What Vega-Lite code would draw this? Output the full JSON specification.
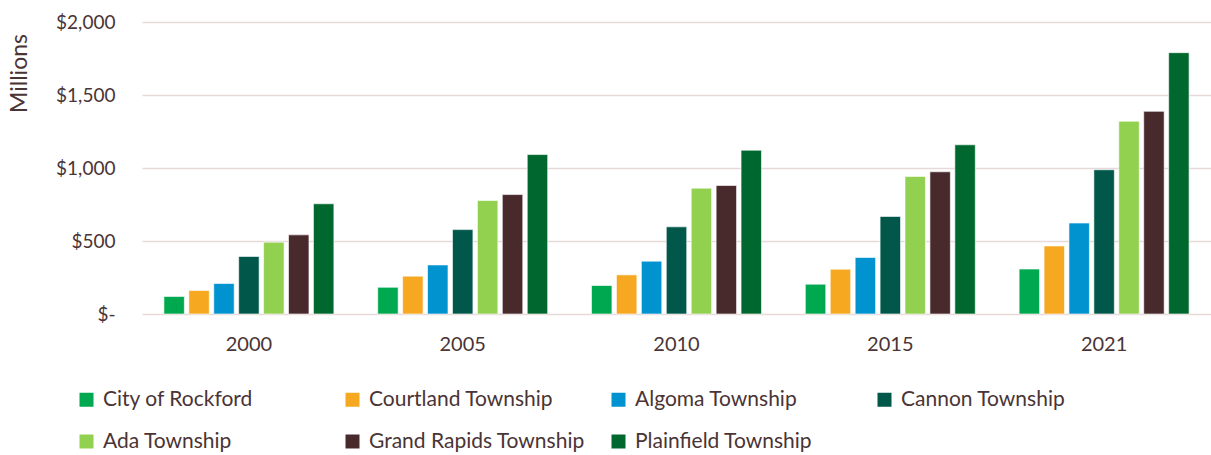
{
  "$schema": "https://vega.github.io/schema/vega-lite/v6.json",
  "width": 1069,
  "height": 292,
  "autosize": "none",
  "padding": {"left": 142, "top": 22, "right": 0, "bottom": 141},
  "background": "#ffffff",
  "config": {
    "view": {"stroke": null},
    "font": "Lato",
    "axis": {"labelColor": "#4A3435", "titleColor": "#4A3435", "labelFont": "Lato", "titleFont": "Lato"},
    "legend": {"labelColor": "#4A3435", "labelFont": "Lato"}
  },
  "data": {
    "values": [
      {"year": "2000", "place": "City of Rockford", "value": 120},
      {"year": "2000", "place": "Courtland Township", "value": 161},
      {"year": "2000", "place": "Algoma Township", "value": 209},
      {"year": "2000", "place": "Cannon Township", "value": 394},
      {"year": "2000", "place": "Ada Township", "value": 492},
      {"year": "2000", "place": "Grand Rapids Township", "value": 542},
      {"year": "2000", "place": "Plainfield Township", "value": 755},
      {"year": "2005", "place": "City of Rockford", "value": 183},
      {"year": "2005", "place": "Courtland Township", "value": 259},
      {"year": "2005", "place": "Algoma Township", "value": 336},
      {"year": "2005", "place": "Cannon Township", "value": 578},
      {"year": "2005", "place": "Ada Township", "value": 777},
      {"year": "2005", "place": "Grand Rapids Township", "value": 818},
      {"year": "2005", "place": "Plainfield Township", "value": 1092},
      {"year": "2010", "place": "City of Rockford", "value": 195},
      {"year": "2010", "place": "Courtland Township", "value": 268},
      {"year": "2010", "place": "Algoma Township", "value": 362},
      {"year": "2010", "place": "Cannon Township", "value": 597},
      {"year": "2010", "place": "Ada Township", "value": 862},
      {"year": "2010", "place": "Grand Rapids Township", "value": 880},
      {"year": "2010", "place": "Plainfield Township", "value": 1122},
      {"year": "2015", "place": "City of Rockford", "value": 204},
      {"year": "2015", "place": "Courtland Township", "value": 307},
      {"year": "2015", "place": "Algoma Township", "value": 387},
      {"year": "2015", "place": "Cannon Township", "value": 668},
      {"year": "2015", "place": "Ada Township", "value": 942},
      {"year": "2015", "place": "Grand Rapids Township", "value": 974},
      {"year": "2015", "place": "Plainfield Township", "value": 1159},
      {"year": "2021", "place": "City of Rockford", "value": 308},
      {"year": "2021", "place": "Courtland Township", "value": 466},
      {"year": "2021", "place": "Algoma Township", "value": 623},
      {"year": "2021", "place": "Cannon Township", "value": 988},
      {"year": "2021", "place": "Ada Township", "value": 1320},
      {"year": "2021", "place": "Grand Rapids Township", "value": 1388},
      {"year": "2021", "place": "Plainfield Township", "value": 1790}
    ]
  },
  "mark": {"type": "bar", "stroke": "#ffffff", "strokeOpacity": 0.6, "strokeWidth": 1},
  "encoding": {
    "x": {
      "field": "year",
      "type": "nominal",
      "scale": {"paddingInner": 0.205, "paddingOuter": 0.1025},
      "axis": {
        "title": null,
        "labelAngle": 0,
        "labelFontSize": 20,
        "labelPadding": 20,
        "ticks": false,
        "domain": false
      }
    },
    "xOffset": {
      "field": "place",
      "type": "nominal",
      "sort": ["City of Rockford", "Courtland Township", "Algoma Township", "Cannon Township", "Ada Township", "Grand Rapids Township", "Plainfield Township"],
      "scale": {"paddingInner": 0.18}
    },
    "y": {
      "field": "value",
      "type": "quantitative",
      "scale": {"domain": [0, 2000], "nice": false},
      "axis": {
        "title": "Millions",
        "titleFontSize": 23,
        "titleFontWeight": "normal",
        "titleAngle": -90,
        "titleX": -123,
        "titleY": 51,
        "titleAlign": "center",
        "titleBaseline": "middle",
        "values": [0, 500, 1000, 1500, 2000],
        "labelExpr": "datum.value === 0 ? '$-   ' : format(datum.value, '$,d')",
        "labelFontSize": 19,
        "labelPadding": 27,
        "ticks": false,
        "domain": false,
        "grid": true,
        "gridColor": "#E8D9D9",
        "gridWidth": 1.5
      }
    },
    "color": {
      "field": "place",
      "type": "nominal",
      "sort": ["City of Rockford", "Courtland Township", "Algoma Township", "Cannon Township", "Ada Township", "Grand Rapids Township", "Plainfield Township"],
      "scale": {
        "domain": ["City of Rockford", "Courtland Township", "Algoma Township", "Cannon Township", "Ada Township", "Grand Rapids Township", "Plainfield Township"],
        "range": ["#00A94F", "#F6A821", "#0093D0", "#00574A", "#92D050", "#482A2C", "#00682F"]
      },
      "legend": {
        "title": null,
        "orient": "none",
        "legendX": -66,
        "legendY": 367,
        "direction": "horizontal",
        "columns": 4,
        "gridAlign": "all",
        "symbolType": "square",
        "symbolSize": 196,
        "symbolStrokeWidth": 0,
        "labelFontSize": 21,
        "labelOffset": 6,
        "columnPadding": 23,
        "rowPadding": 20,
        "labelLimit": 300
      }
    }
  }
}
